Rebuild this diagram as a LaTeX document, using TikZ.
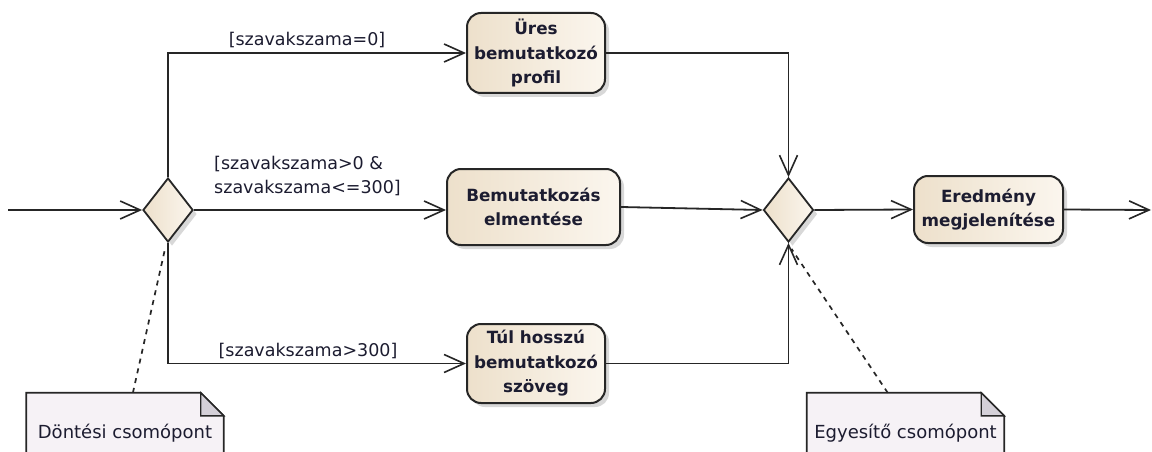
\documentclass[tikz,border=0pt]{standalone}
\usepackage{fontspec}
\setmainfont{DejaVu Sans}
\usetikzlibrary{arrows.meta,shapes.geometric,shadows,calc}
\definecolor{edge}{HTML}{262626}
\definecolor{actL}{HTML}{EDE0CB}
\definecolor{actR}{HTML}{FBF6EE}
\definecolor{notefill}{HTML}{F6F2F6}
\definecolor{foldfill}{HTML}{D4D0D8}
\definecolor{txt}{HTML}{1C1C30}
\pgfdeclarelayer{bg}
\pgfsetlayers{bg,main}
\begin{document}
\begin{tikzpicture}[x=1pt,y=-1pt,
  act/.style={rectangle, rounded corners=14pt, draw=edge, line width=2pt,
    left color=actL, right color=actR, align=center, text=txt,
    font=\bfseries\fontsize{16.8}{24.5}\selectfont, inner sep=0pt,
    drop shadow={shadow xshift=4pt, shadow yshift=-4pt, opacity=0.3}},
  gate/.style={diamond, draw=edge, line width=1.8pt, left color=actL, right color=actR,
    minimum width=50pt, minimum height=64pt, inner sep=0pt,
    drop shadow={shadow xshift=4pt, shadow yshift=-4pt, opacity=0.3}},
  flow/.style={draw=edge, line width=1.8pt,
    -{Straight Barb[length=20pt,width=18pt,line width=1.6pt]}},
  lbl/.style={font=\fontsize{17.5}{24}\selectfont, text=txt, inner sep=0pt},
  notebox/.style={minimum width=197pt, minimum height=80pt, inner sep=0pt,
    text=txt, font=\fontsize{18}{24}\selectfont},
  noteline/.style={draw=edge, line width=1.7pt, fill=notefill},
  foldline/.style={draw=edge, line width=1.4pt, fill=foldfill},
  link/.style={draw=edge, line width=1.7pt, dash pattern=on 5pt off 5pt},
]
\useasboundingbox (0,0) rectangle (1152,452);
\begin{pgfonlayer}{bg}
  \fill[white] (0,0) rectangle (1152,452);
\end{pgfonlayer}

% activity nodes
\node[act, minimum width=138pt, minimum height=80pt] (ures) at (536,53) {Üres\\bemutatkozó\\profil};
\node[act, minimum width=173pt, minimum height=76pt] (bem) at (533.5,207) {Bemutatkozás\\elmentése};
\node[act, minimum width=138pt, minimum height=79pt] (tul) at (536,363.5) {Túl hosszú\\bemutatkozó\\szöveg};
\node[act, minimum width=149pt, minimum height=67pt] (ered) at (988.5,209.5) {Eredmény\\megjelenítése};

% decision / merge
\node[gate] (dec) at (168,210) {};
\node[gate] (mer) at (788.5,210) {};

% notes
\node[notebox] (n1) at (125,433) {Döntési csomópont};
\node[notebox] (n2) at (905.5,433) {Egyesítő csomópont};
\begin{pgfonlayer}{bg}
  \foreach \n in {n1,n2}{
    \draw[noteline] (\n.south west) -- (\n.north west) -- ([xshift=-23pt]\n.north east)
      -- ([yshift=-23pt]\n.north east) -- (\n.south east) -- cycle;
    \draw[foldline] ([xshift=-23pt]\n.north east) -- ([xshift=-23pt,yshift=-23pt]\n.north east)
      -- ([yshift=-23pt]\n.north east) -- cycle;
  }
\end{pgfonlayer}

% guard labels
\node[lbl] (l1) at (307,40) {[szavakszama=0]};
\node[lbl, align=left, anchor=west] (l2) at (214,176) {[szavakszama>0 \&\\szavakszama<=300]};
\node[lbl] (l3) at (308,351) {[szavakszama>300]};

% flows
\coordinate (start) at (8,210);
\coordinate (finish) at (1151,210);
\draw[flow] (start) -- (dec.west);
\draw[flow] (dec.north) |- (ures.west);
\draw[flow] (dec.east) -- (dec.east -| bem.west);
\draw[flow] (dec.south) |- (tul.west);
\draw[flow] (ures.east) -| (mer.north);
\draw[flow] (bem.east) -- (mer.west);
\draw[flow] (tul.east) -| (mer.south);
\draw[flow] (mer.east) -- (ered.west);
\draw[flow] (ered.east) -- (finish);

% note links
\draw[link] ($(n1.north west)!0.54!(n1.north east)$) -- ([xshift=-3pt,yshift=-6pt]dec.south);
\draw[link] ($(n2.north west)!0.41!(n2.north east)$) -- ([xshift=3pt,yshift=-6pt]mer.south);
\end{tikzpicture}
\end{document}
